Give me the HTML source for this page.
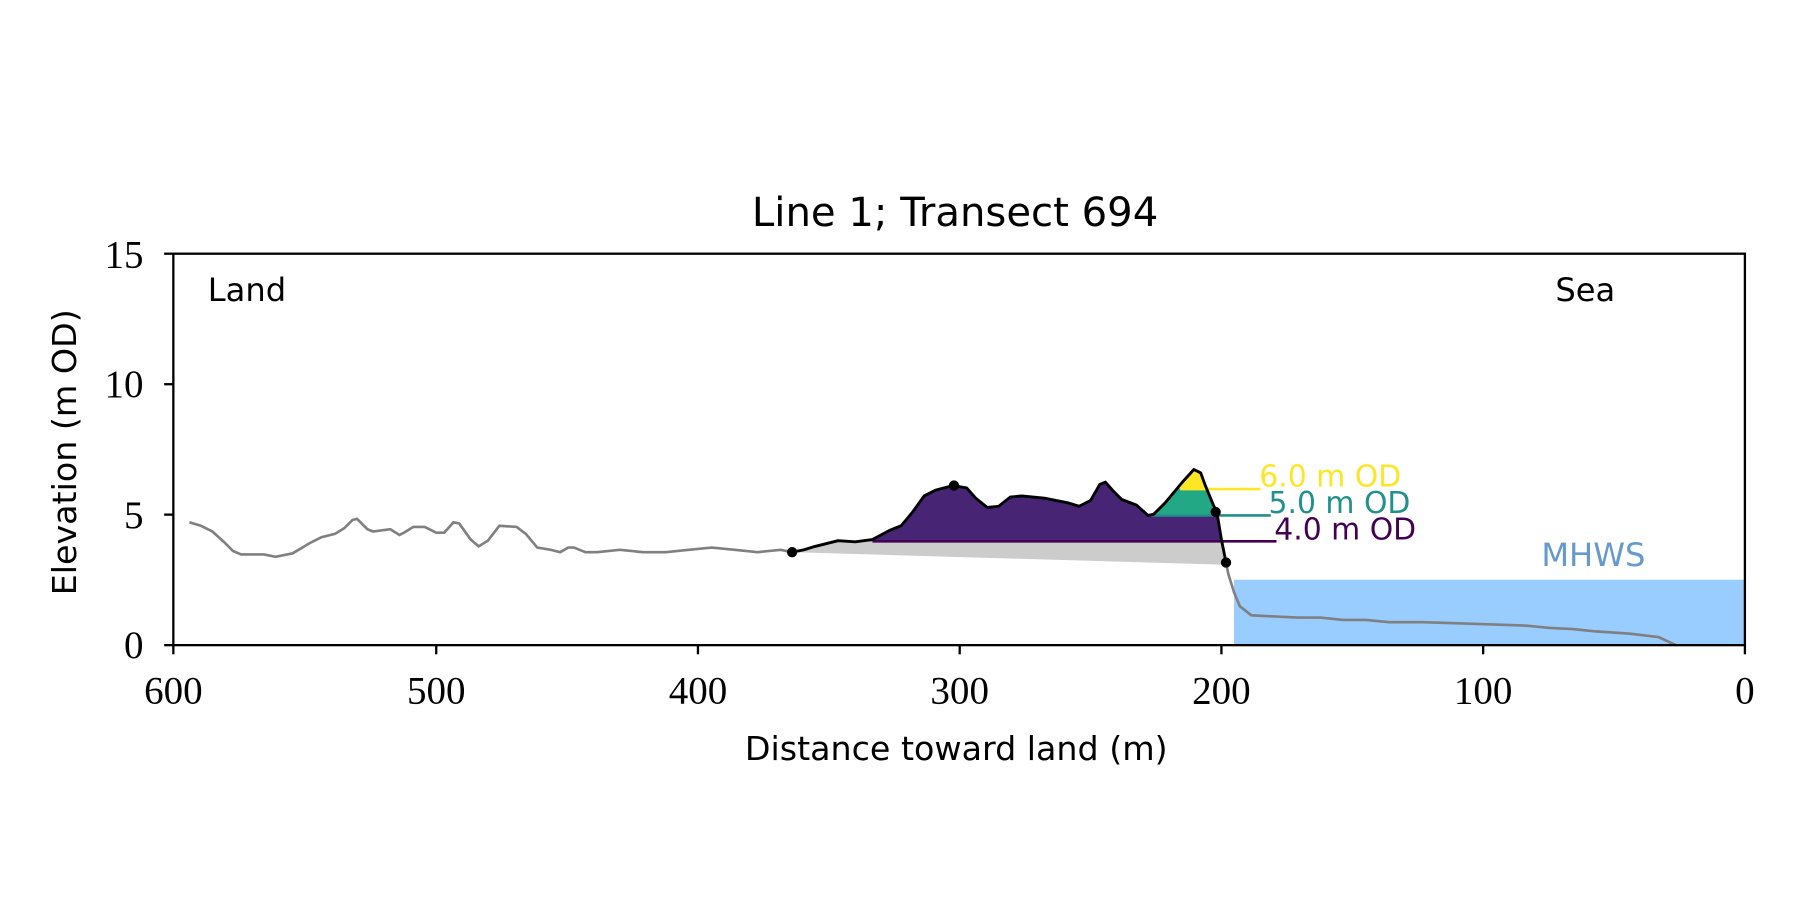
<!DOCTYPE html><html><head><style>body{margin:0;background:#fff}svg{display:block}</style></head><body>
<svg width="1800" height="900" viewBox="0 0 1568 784" xmlns="http://www.w3.org/2000/svg">
<defs><clipPath id="c"><polygon points="690,481 700,479 710,476 730,471 745,472 760,470 775,462 785,458 795,446 805,432 815,427 830,423 842,425 850,434 860,442 870,441 880,433 890,432 910,434 930,438 940,441 950,436 958,422 963,420 970,428 977,435 990,440 1000,449 1005,448 1015,438 1030,420 1040,409 1046,412 1050,423 1057,440 1060,446 1064,470 1068,490 1068,600 690,600"/></clipPath></defs>
<rect x="1075" y="505" width="445" height="57" fill="#99ccff"/>
<polygon points="690,481 700,479 710,476 730,471 745,472 760,470 775,462 785,458 795,446 805,432 815,427 830,423 842,425 850,434 860,442 870,441 880,433 890,432 910,434 930,438 940,441 950,436 958,422 963,420 970,428 977,435 990,440 1000,449 1005,448 1015,438 1030,420 1040,409 1046,412 1050,423 1057,440 1060,446 1064,470 1068,492" fill="#cccccc"/>
<g clip-path="url(#c)">
<rect x="690" y="300" width="380" height="171.5" fill="#482475"/>
<rect x="1003" y="300" width="70" height="148.5" fill="#22a884"/>
<rect x="1026" y="300" width="50" height="125.5" fill="#fde725"/>
</g>
<polyline fill="none" stroke="#808080" stroke-width="2.3" points="165,455 175,458 185,463 195,472 203,480 210,483 230,483 240,485 255,482 270,473 280,468 292,465 300,460 307,453 311,452 320,461 325,463 340,461 348,466 352,464 360,459 370,459 380,464 387,464 395,455 400,456 410,470 417,476 425,471 435,458 450,459 458,465 468,477 480,479 488,481 495,477 500,477 510,481 520,481 540,479 560,481 580,481 600,479 620,477 640,479 660,481 680,479 690,481"/>
<polyline fill="none" stroke="#808080" stroke-width="2.3" points="1068,490 1070,500 1075,516 1080,528 1090,536 1110,537 1130,538 1150,538 1170,540 1190,540 1210,542 1240,542 1270,543 1300,544 1330,545 1350,547 1370,548 1390,550 1420,552 1445,555 1460,562"/>
<line x1="760" y1="471.5" x2="1112" y2="471.5" stroke="#440154" stroke-width="2.3"/>
<line x1="1003" y1="449" x2="1107" y2="449" stroke="#21918c" stroke-width="2.3"/>
<line x1="1028" y1="426" x2="1098" y2="426" stroke="#fde725" stroke-width="2.3"/>
<polyline fill="none" stroke="#000" stroke-width="2.5" stroke-linejoin="round" points="690,481 700,479 710,476 730,471 745,472 760,470 775,462 785,458 795,446 805,432 815,427 830,423 842,425 850,434 860,442 870,441 880,433 890,432 910,434 930,438 940,441 950,436 958,422 963,420 970,428 977,435 990,440 1000,449 1005,448 1015,438 1030,420 1040,409 1046,412 1050,423 1057,440 1060,446 1064,470 1068,490"/>
<g fill="#000"><circle cx="690" cy="481" r="4.5"/><circle cx="831" cy="423" r="4.5"/><circle cx="1059" cy="446" r="4.5"/><circle cx="1068" cy="490" r="4.5"/></g>
<g font-family="DejaVu Sans, Liberation Sans, sans-serif" font-size="26">
<text x="1097" y="424" fill="#fde725">6.0 m OD</text>
<text x="1105" y="447" fill="#21918c">5.0 m OD</text>
<text x="1110" y="470" fill="#440154">4.0 m OD</text>
<text x="1388" y="493" fill="#6699cc" font-size="28" text-anchor="middle">MHWS</text>
<text x="181" y="262" font-size="28">Land</text>
<text x="1407" y="262" font-size="28" text-anchor="end">Sea</text>
<text x="832" y="197" font-size="35" text-anchor="middle">Line 1; Transect 694</text>
<text x="833" y="662" font-size="29" text-anchor="middle">Distance toward land (m)</text>
<text transform="translate(66,394) rotate(-90)" font-size="29" text-anchor="middle">Elevation (m OD)</text>
</g>
<rect x="151" y="221" width="1369" height="341" fill="none" stroke="#000" stroke-width="2"/>
<g stroke="#000" stroke-width="2">
<line x1="151" y1="562" x2="151" y2="570"/><line x1="380" y1="562" x2="380" y2="570"/><line x1="608" y1="562" x2="608" y2="570"/><line x1="836" y1="562" x2="836" y2="570"/><line x1="1064" y1="562" x2="1064" y2="570"/><line x1="1292" y1="562" x2="1292" y2="570"/><line x1="1520" y1="562" x2="1520" y2="570"/>
<line x1="143" y1="562" x2="151" y2="562"/><line x1="143" y1="448.3" x2="151" y2="448.3"/><line x1="143" y1="334.7" x2="151" y2="334.7"/><line x1="143" y1="221" x2="151" y2="221"/>
</g>
<g font-family="Liberation Serif, serif" font-size="34" text-anchor="middle">
<text x="151" y="613">600</text><text x="380" y="613">500</text><text x="608" y="613">400</text><text x="836" y="613">300</text><text x="1064" y="613">200</text><text x="1292" y="613">100</text><text x="1520" y="613">0</text>
</g>
<g font-family="Liberation Serif, serif" font-size="34" text-anchor="end">
<text x="125" y="573">0</text><text x="125" y="460">5</text><text x="125" y="346">10</text><text x="125" y="233">15</text>
</g>
</svg>
</body></html>
